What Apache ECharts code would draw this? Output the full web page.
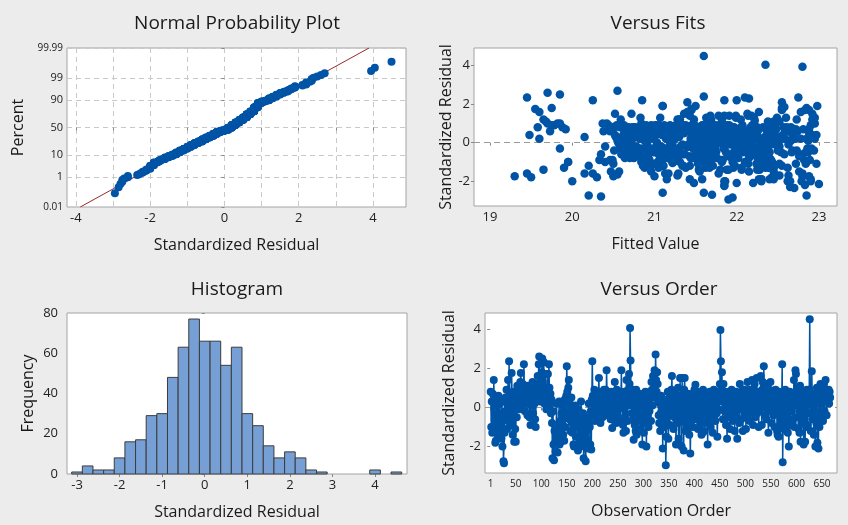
<!DOCTYPE html>
<html><head><meta charset="utf-8">
<script src="https://cdn.jsdelivr.net/npm/echarts@6/dist/echarts.min.js"></script>
<style>html,body{margin:0;padding:0;background:#ececec}#c{width:848px;height:525px}</style>
</head><body><div id="c"></div>
<script>
// Standardized residuals in observation order
const residuals = [
0.8,-1.0,0.3,-1.3,0.7,-1.1,1.4,0.2,-0.6,-1.8,
-1.7,0.4,-0.8,0.1,-1.4,0.6,-0.3,-1.2,0.2,-0.9,
-1.5,-1.6,0.3,-2.0,-0.7,-2.75,-2.85,-1.3,-0.2,0.5,
-0.4,0.9,-1.1,0.1,1.4,-0.6,2.35,0.6,-0.9,0.2,
-0.3,1.75,0.4,-1.4,0.8,-0.2,-1.75,0.5,-1.1,-1.75,
0.3,-0.5,1.1,0.6,0.2,1.0,-0.1,0.7,1.3,1.75,
0.5,0.9,0.1,1.2,0.6,2.2,0.8,-0.2,0.4,1.0,
0.3,0.7,-0.4,1.1,0.2,0.6,-0.5,0.9,-0.9,0.4,
0.8,0.1,1.3,-0.3,0.5,1.0,0.2,-0.6,-1.0,0.7,
1.2,0.4,1.6,0.9,2.2,2.6,1.1,0.3,1.5,0.8,
1.8,2.5,1.3,0.6,2.3,0.2,1.0,0.5,1.7,-0.1,
0.9,0.3,1.7,0.6,2.2,1.0,0.1,0.7,-0.3,0.4,
-0.8,-2.6,-0.2,-1.9,-2.7,-1.2,-1.8,-2.25,-1.6,0.2,
-0.9,-2.3,-1.6,-1.3,0.3,-1.9,-0.7,-1.75,-1.1,-0.3,
-0.6,0.1,-1.4,-0.2,-1.7,0.4,-1.0,-0.5,0.6,2.1,
0.8,-0.3,1.0,1.4,-0.6,0.2,-1.2,-0.4,0.5,-0.8,
-1.3,-0.2,-1.9,-2.0,-0.5,-1.0,0.1,-1.5,-0.3,-0.9,
-0.6,-2.2,-0.1,-0.8,-1.7,-0.4,-2.0,0.3,-0.7,-1.5,
-1.0,-0.3,-2.6,-1.5,-1.3,-2.0,-2.75,-1.6,-0.5,-1.1,
-0.8,-2.1,0.2,-0.6,-1.0,-1.9,-0.2,-2.15,0.4,2.35,
0.6,-0.4,0.3,0.9,-0.7,0.1,0.5,-0.2,0.7,-0.6,
0.2,0.8,1.5,-0.3,0.4,-0.8,0.6,0.0,0.8,-0.5,
0.3,-0.2,0.9,0.5,-0.4,0.9,0.1,1.9,0.6,-0.1,
0.4,0.7,-0.3,0.7,0.2,-0.6,0.8,0.0,-1.05,0.3,
-0.5,0.6,0.1,1.3,-0.2,0.4,-0.8,0.9,0.2,-0.4,
0.5,-0.1,0.8,0.8,-0.6,0.3,1.9,0.0,0.7,-0.9,
-1.3,0.4,0.8,-0.5,0.6,-1.2,1.4,0.2,-0.7,0.9,
0.1,1.7,1.2,4.05,2.4,0.5,-0.3,0.9,0.8,-0.6,
-1.65,0.3,-0.9,0.6,-1.2,0.9,-1.4,0.1,0.5,-0.7,
0.2,-0.5,0.7,-1.1,0.4,-0.3,0.0,-1.9,0.6,-0.8,
-1.3,0.3,-0.6,0.8,-0.1,-2.0,0.5,-0.4,0.2,-1.0,
0.4,-0.2,0.8,0.6,-0.7,1.3,0.9,0.1,1.6,0.7,
1.0,1.9,0.5,2.7,1.4,0.8,1.8,1.2,0.3,-0.4,
-0.8,0.2,-1.2,-0.3,0.6,-0.9,-0.1,-2.1,0.4,-0.5,
-1.0,0.3,-0.6,-2.95,-1.5,0.1,-0.2,0.8,-1.6,-0.3,
0.5,-0.9,0.2,-0.4,0.9,1.6,-0.1,0.6,-1.1,0.3,
-0.5,0.7,-0.2,-1.9,0.4,0.0,-0.8,1.0,-1.6,0.2,
-1.9,1.5,-0.3,0.6,-2.0,1.5,-0.7,0.3,-2.2,0.9,
1.5,-0.4,-1.2,0.5,-0.1,-0.9,0.2,0.7,-0.6,-1.4,
-0.2,-2.35,-0.8,0.4,-0.5,0.1,-1.0,0.6,-0.3,0.9,
0.2,1.15,-0.6,0.5,-0.2,0.8,-1.1,0.0,-0.5,0.4,
-0.9,0.3,-0.1,-1.4,0.6,-1.3,0.9,-0.7,0.1,-1.2,
0.5,-0.3,0.2,-0.8,0.7,-1.9,0.0,0.4,-0.6,0.8,
-0.2,-1.0,0.3,0.6,-0.5,-1.3,0.1,0.9,-0.4,0.5,
-0.7,0.2,0.7,-0.3,-1.5,0.6,0.8,-0.1,0.4,1.2,
3.95,2.35,1.1,1.8,0.3,-0.6,1.2,0.5,-0.2,0.8,
0.1,-0.9,0.6,-1.6,-0.3,0.7,0.8,-0.5,0.2,-1.1,
0.4,-0.2,0.9,0.0,-0.7,0.7,-0.4,0.3,-1.2,0.6,
-0.5,0.8,0.2,-1.6,0.5,-0.1,0.7,-0.8,1.2,0.1,
0.3,-0.6,0.8,0.4,-1.2,0.6,0.0,0.9,-0.3,0.5,
-1.1,0.7,0.2,1.3,-0.4,0.8,0.1,-0.7,0.9,0.4,
0.6,-0.2,1.4,0.3,-0.9,0.9,0.0,1.2,-0.5,0.7,
0.2,1.5,-0.3,0.8,0.4,-1.0,0.8,0.5,-0.1,1.6,
0.3,-0.9,0.9,1.3,0.1,2.1,0.6,-0.4,0.7,0.2,
-0.6,0.8,1.2,0.0,-1.3,0.5,0.9,-0.2,1.3,0.4,
-0.8,0.6,0.1,0.8,-0.4,0.7,-1.0,0.3,0.9,-0.3,
0.5,-1.2,-1.4,0.2,-1.5,0.8,-0.2,-0.9,0.4,-0.7,
0.1,2.2,-2.8,-0.5,-1.1,0.6,-0.3,0.9,-0.8,0.2,
-1.2,0.7,-1.3,0.3,-2.0,-0.6,0.8,0.0,-0.9,0.5,
-0.2,0.7,-0.7,0.4,1.4,-1.0,0.6,1.9,1.7,0.1,
-0.5,0.9,0.2,-1.1,0.5,-1.3,1.1,-1.75,0.3,-0.8,
0.7,-0.4,0.0,-1.9,0.8,-0.6,-1.75,0.4,-1.0,0.9,
0.2,-0.9,0.8,-0.3,0.9,4.5,0.6,-1.2,0.3,1.85,
0.5,-0.6,0.1,-1.4,0.7,-0.2,-2.0,0.4,-0.8,1.0,
-1.8,-0.4,-2.1,0.6,-1.0,0.2,1.2,-0.5,0.9,0.3,
0.8,-0.7,0.5,1.2,-0.2,0.8,1.4,0.6,-0.4,0.7,
0.7,0.4,0.9,0.2,0.8,0.5
];
// Fitted values, same observation order
const fitted = [
21.35,22.10,20.85,21.62,22.48,20.92,21.78,22.85,21.05,19.50,
22.52,21.18,20.64,21.95,22.28,20.38,21.47,20.96,22.71,21.83,
20.47,19.45,22.36,22.30,21.12,20.20,21.95,22.62,20.78,21.56,
22.94,21.02,21.68,20.55,22.18,22.77,19.45,21.27,20.33,22.05,
21.74,19.55,22.42,19.65,20.69,21.39,19.30,22.88,21.53,22.80,
20.98,22.25,19.68,21.84,22.58,20.42,21.21,19.92,22.95,21.45,
22.67,19.75,21.60,19.65,20.88,20.85,22.32,20.58,21.91,19.82,
21.14,22.08,20.71,22.52,19.60,21.33,22.84,19.78,20.49,21.70,
19.58,22.46,21.07,22.91,20.63,19.70,21.49,22.15,19.95,20.81,
22.73,19.48,19.60,21.26,20.25,19.70,22.38,21.88,20.52,19.88,
19.75,19.85,22.60,20.95,22.15,21.65,19.85,22.23,21.45,20.68,
21.38,20.15,22.83,19.73,21.85,22.44,20.90,21.71,19.85,22.97,
20.75,21.10,22.12,21.43,21.70,22.55,20.30,21.85,20.15,21.58,
22.89,22.65,21.29,19.90,22.01,22.30,20.85,21.00,22.72,21.12,
20.60,22.37,21.80,20.40,22.63,21.02,19.95,22.21,21.53,21.40,
22.47,21.67,20.37,21.91,20.82,22.78,21.35,20.51,22.09,21.76,
20.88,22.52,21.15,20.00,21.97,22.35,20.72,21.55,22.86,20.46,
21.62,21.85,22.29,20.92,21.28,22.68,21.86,20.60,22.00,22.45,
21.31,20.98,21.60,22.15,21.05,22.65,22.85,20.25,21.75,20.50,
22.40,21.48,20.82,21.95,20.40,22.27,21.18,23.00,22.56,22.10,
21.02,22.73,21.58,20.44,21.90,20.67,22.20,21.41,20.93,22.58,
21.24,22.06,21.36,20.58,22.92,21.71,20.79,21.52,22.39,20.97,
22.17,21.08,20.54,21.83,22.50,21.19,20.88,21.10,22.64,21.34,
20.71,22.26,21.64,22.81,21.46,20.35,21.94,22.44,21.22,20.62,
21.87,21.04,22.33,20.83,21.59,22.70,21.13,21.78,20.96,22.12,
21.50,22.47,20.74,22.25,21.37,20.53,22.98,21.69,22.88,21.06,
22.35,21.27,22.61,20.65,21.81,20.20,22.14,21.44,22.76,20.90,
21.63,22.55,20.59,22.35,21.60,22.22,21.09,22.90,20.77,21.96,
20.55,21.73,22.42,21.15,20.86,22.07,21.54,22.66,21.30,20.69,
22.28,21.00,21.57,22.84,20.95,21.84,22.51,22.30,21.20,22.02,
21.67,20.76,22.37,21.48,20.62,22.79,21.92,21.17,22.59,20.84,
21.25,22.19,20.98,22.72,21.43,22.49,20.60,21.87,22.27,21.08,
22.95,21.50,21.36,20.55,21.99,20.88,22.85,21.30,22.14,21.61,
21.94,20.73,22.46,21.21,22.63,21.52,20.91,22.20,21.77,22.87,
21.04,22.34,21.72,21.90,20.57,22.00,21.40,22.57,21.13,20.80,
22.41,21.60,20.83,22.09,21.35,22.78,21.85,20.66,22.24,21.49,
21.18,22.69,21.97,21.58,20.99,22.31,20.70,21.63,22.80,22.05,
22.90,21.42,20.87,22.16,21.85,22.92,21.27,22.53,22.83,21.06,
20.72,22.38,21.11,21.76,22.63,20.94,21.53,22.27,20.77,21.88,
22.11,22.70,21.44,20.92,22.54,21.23,21.95,22.74,21.65,20.63,
21.81,22.22,20.75,21.45,21.32,21.70,22.97,21.03,22.32,21.57,
20.86,21.60,21.47,22.06,21.19,22.39,21.89,20.68,22.40,21.34,
22.18,21.07,21.75,21.61,20.97,22.45,21.80,20.52,21.26,20.74,
21.55,22.43,20.89,21.93,22.67,21.38,22.13,21.01,20.82,21.36,
21.73,21.82,21.16,22.03,20.96,21.46,20.58,21.90,22.25,21.28,
22.80,22.75,21.66,22.55,20.94,22.20,21.48,21.36,20.64,21.84,
22.10,21.20,20.46,21.78,20.91,21.65,21.40,22.08,21.58,22.52,
20.98,22.33,21.74,21.86,21.12,22.26,21.64,20.80,21.71,21.44,
22.40,21.52,22.95,21.17,22.03,21.85,20.72,21.57,21.31,22.19,
21.69,20.60,20.88,21.95,22.34,21.22,21.77,21.59,20.93,22.44,
22.14,21.37,22.68,21.99,21.05,20.50,21.76,22.24,21.91,21.48,
20.84,22.05,21.43,21.62,22.82,21.28,22.16,21.82,21.61,20.67,
22.35,22.13,21.57,21.74,21.09,22.28,20.65,21.93,21.41,21.40,
21.79,21.54,20.96,22.21,22.87,22.55,21.54,22.09,20.78,21.25,
21.31,21.66,22.92,21.03,22.45,22.01,21.34,20.70,21.63,21.88,
21.46,22.37,21.80,21.59,20.99,22.18,22.85,21.71,21.49,22.04,
21.66,21.43,22.25,21.14,22.76,21.91,22.39,20.87,22.11,21.56,
22.29,22.00,20.35,21.97,21.62,21.35,20.83,22.20,21.67,21.47,
21.10,22.72,22.06,21.52,22.90,21.34,21.77,20.56,21.24,21.96,
22.21,21.39,20.80,22.02,21.68,21.63,22.41,21.10,22.88,21.83,
21.53,21.58,22.27,21.01,20.73,21.96,22.45,22.88,21.30,22.15,
21.72,20.60,21.19,22.40,21.97,21.50,20.50,22.24,21.82,21.45,
22.09,21.81,20.51,21.27,22.19,21.60,21.69,21.98,22.36,22.58,
21.61,20.92,22.14,21.90,21.50,21.08,22.62,21.75,22.30,20.84,
22.43,21.53,22.00,21.77,21.23,22.23,21.69,20.95,21.86,22.55,
21.38,21.92,20.87,22.05,21.42,22.66,21.85,21.78,22.28,20.99,
21.57,22.46,21.12,21.74,22.17,21.89
];
// Histogram bins (centres) and frequencies
const histCenters = [-3,-2.75,-2.5,-2.25,-2,-1.75,-1.5,-1.25,-1,-0.75,-0.5,-0.25,0,0.25,0.5,0.75,1,1.25,1.5,1.75,2,2.25,2.5,2.75,3,3.25,3.5,3.75,4,4.25,4.5];
const histCounts  = [1,4,2,2,8,16,17,29,30,48,63,77,66,66,54,63,30,24,14,8,11,8,2,1,0,0,0,0,2,0,1];
// Tick labels
const probPercentTicks = [0.01,1,10,50,90,99,99.99];
const probPercentLabels = ['0.01','1','10','50','90','99','99.99'];
const probXGrid = [-4,-3,-2,-1,0,1,2,3,4];
const probXLabels = [-4,-2,0,2,4];
const fitsXTicks = [19,20,21,22,23];
const residYTicks = [-2,0,2,4];
const histXTicks = [-3,-2,-1,0,1,2,3,4];
const orderXTicks = [1,50,100,150,200,250,300,350,400,450,500,550,600,650];

// inverse standard normal CDF (probability-scale transform)
function probit(p){
  const a=[-3.969683028665376e+01,2.209460984245205e+02,-2.759285104469687e+02,1.383577518672690e+02,-3.066479806614716e+01,2.506628277459239e+00];
  const b=[-5.447609879822406e+01,1.615858368580409e+02,-1.556989798598866e+02,6.680131188771972e+01,-1.328068155288572e+01];
  const c=[-7.784894002430293e-03,-3.223964580411365e-01,-2.400758277161838e+00,-2.549732539343734e+00,4.374664141464968e+00,2.938163982698783e+00];
  const d=[7.784695709041462e-03,3.224671290700398e-01,2.445134137142996e+00,3.754408661907416e+00];
  const pl=0.02425;
  let q,r;
  if(p<pl){q=Math.sqrt(-2*Math.log(p));return (((((c[0]*q+c[1])*q+c[2])*q+c[3])*q+c[4])*q+c[5])/((((d[0]*q+d[1])*q+d[2])*q+d[3])*q+1);}
  if(p>1-pl){q=Math.sqrt(-2*Math.log(1-p));return -(((((c[0]*q+c[1])*q+c[2])*q+c[3])*q+c[4])*q+c[5])/((((d[0]*q+d[1])*q+d[2])*q+d[3])*q+1);}
  q=p-0.5;r=q*q;return (((((a[0]*r+a[1])*r+a[2])*r+a[3])*r+a[4])*r+a[5])*q/(((((b[0]*r+b[1])*r+b[2])*r+b[3])*r+b[4])*r+1);
}

const n = residuals.length;
const sorted = residuals.slice().sort((x,y)=>x-y);
const probData = sorted.map((v,i)=>[v, probit((i+1-0.3)/(n+0.4))]);
const mean = residuals.reduce((s,v)=>s+v,0)/n;
const sd = Math.sqrt(residuals.reduce((s,v)=>s+(v-mean)*(v-mean),0)/(n-1));
const zTicks = probPercentTicks.map(p=>probit(p/100));
const zMin = zTicks[0], zMax = zTicks[zTicks.length-1];
const fitLine = [[mean+sd*zMin, zMin],[mean+sd*zMax, zMax]];
const fitsData = residuals.map((r,i)=>[fitted[i], r]);
const orderData = residuals.map((r,i)=>[i+1, r]);
const histData = histCenters.map((c,i)=>[c, histCounts[i]]);
const binW = histCenters[1]-histCenters[0];

const FONT = '"Open Sans", "DejaVu Sans", sans-serif';
const BLUE = '#0054a6';
const LBL = '#222';
const dash = {type:[5,4], color:'#c9c9c9', width:1};
const tickStyle = {show:true, length:3, lineStyle:{color:'#888'}};
function axisBase(extra){
  return Object.assign({
    type:'value', axisLine:{show:false},
    axisTick:tickStyle,
    axisLabel:{color:LBL, fontFamily:FONT, fontSize:13, margin:5},
    splitLine:{show:false},
    nameLocation:'middle',
    nameTextStyle:{color:'#1a1a1a', fontFamily:FONT, fontSize:16}
  }, extra);
}
const titleStyle = {color:'#1a1a1a', fontFamily:FONT, fontSize:19, fontWeight:'normal'};
const gridBox = {show:true, backgroundColor:'#fff', borderColor:'#a4a4a4', borderWidth:1};

const chart = echarts.init(document.getElementById('c'), null, {renderer:'canvas'});
chart.setOption({
  backgroundColor:'#ececec',
  animation:false,
  title:[
    {text:'Normal Probability Plot', left:237, top:14, textAlign:'center', padding:0, textStyle:titleStyle},
    {text:'Versus Fits', left:658, top:14, textAlign:'center', padding:0, textStyle:titleStyle},
    {text:'Histogram', left:237, top:280, textAlign:'center', padding:0, textStyle:titleStyle},
    {text:'Versus Order', left:659, top:280, textAlign:'center', padding:0, textStyle:titleStyle}
  ],
  grid:[
    Object.assign({left:67, top:48, width:339, height:159}, gridBox),
    Object.assign({left:474, top:48, width:363, height:158}, gridBox),
    Object.assign({left:67, top:313, width:340, height:161}, gridBox),
    Object.assign({left:485, top:313, width:352, height:160}, gridBox)
  ],
  xAxis:[
    axisBase({gridIndex:0, min:-4.24, max:4.89, name:'Standardized Residual', nameGap:30,
      axisTick:Object.assign({customValues:probXGrid}, tickStyle),
      axisLabel:{color:LBL, fontFamily:FONT, fontSize:13, margin:5, customValues:probXLabels},
      splitLine:{show:true, lineStyle:dash}}),
    axisBase({gridIndex:1, min:18.805, max:23.22, name:'Fitted Value', nameGap:30,
      axisTick:Object.assign({customValues:fitsXTicks}, tickStyle),
      axisLabel:{color:LBL, fontFamily:FONT, fontSize:13, margin:5, customValues:fitsXTicks}}),
    axisBase({gridIndex:2, min:-3.235, max:4.75, name:'Standardized Residual', nameGap:30,
      axisTick:Object.assign({customValues:histXTicks}, tickStyle),
      axisLabel:{color:LBL, fontFamily:FONT, fontSize:13, margin:5, customValues:histXTicks}}),
    axisBase({gridIndex:3, min:-10.2, max:679.4, name:'Observation Order', nameGap:30,
      axisTick:Object.assign({customValues:orderXTicks}, tickStyle),
      axisLabel:{color:LBL, fontFamily:FONT, fontSize:10, margin:6, customValues:orderXTicks}})
  ],
  yAxis:[
    axisBase({gridIndex:0, min:zMin, max:zMax, name:'Percent', nameGap:41,
      axisTick:Object.assign({customValues:zTicks}, tickStyle),
      axisLabel:{color:LBL, fontFamily:FONT, margin:4, customValues:zTicks,
        formatter:(v)=>{let k=0,b=1e9;zTicks.forEach((z,i)=>{if(Math.abs(z-v)<b){b=Math.abs(z-v);k=i;}});
          const t=probPercentLabels[k];return (k===0||k===zTicks.length-1)?'{s|'+t+'}':'{m|'+t+'}';},
        rich:{s:{fontSize:10, color:LBL, fontFamily:FONT}, m:{fontSize:11, color:LBL, fontFamily:FONT}}},
      splitLine:{show:true, lineStyle:dash}}),
    axisBase({gridIndex:1, min:-3.29, max:4.92, name:'Standardized Residual', nameGap:17,
      axisTick:Object.assign({customValues:residYTicks}, tickStyle),
      axisLabel:{color:LBL, fontFamily:FONT, fontSize:13, margin:4, customValues:residYTicks}}),
    axisBase({gridIndex:2, min:0, max:80, interval:20, name:'Frequency', nameGap:31,
      axisLabel:{color:LBL, fontFamily:FONT, fontSize:13, margin:9}}),
    axisBase({gridIndex:3, min:-3.35, max:4.82, name:'Standardized Residual', nameGap:28,
      axisTick:Object.assign({customValues:residYTicks}, tickStyle),
      axisLabel:{color:LBL, fontFamily:FONT, fontSize:13, margin:4, customValues:residYTicks}})
  ],
  series:[
    {type:'line', xAxisIndex:0, yAxisIndex:0, data:fitLine, symbol:'none', clip:true, z:3,
      lineStyle:{color:'#9c2a2a', width:1}},
    {type:'scatter', xAxisIndex:0, yAxisIndex:0, data:probData, symbolSize:8, z:4,
      itemStyle:{color:BLUE, opacity:1}},
    {type:'scatter', xAxisIndex:1, yAxisIndex:1, data:fitsData, symbolSize:8.5, z:4,
      itemStyle:{color:BLUE, opacity:1},
      markLine:{silent:true, symbol:'none', z:1, label:{show:false}, lineStyle:{type:[6,4], color:'#9a9a9a', width:1}, data:[{yAxis:0}]}},
    {type:'custom', xAxisIndex:2, yAxisIndex:2, data:histData, z:4,
      renderItem:(params, api)=>{
        const c=api.value(0), f=api.value(1);
        if(!f) return null;
        const p0=api.coord([c-binW/2, f]);
        const p1=api.coord([c+binW/2, 0]);
        return {type:'rect', shape:{x:p0[0], y:p0[1], width:p1[0]-p0[0], height:p1[1]-p0[1]},
          style:{fill:'#769fd5', stroke:'#3c3c3c', lineWidth:1}};
      }},
    {type:'line', xAxisIndex:3, yAxisIndex:3, data:orderData, symbol:'circle', symbolSize:8, showAllSymbol:true, z:4,
      itemStyle:{color:BLUE, opacity:1}, lineStyle:{color:BLUE, width:1.5},
      markLine:{silent:true, symbol:'none', z:1, label:{show:false}, lineStyle:{type:[6,4], color:'#9a9a9a', width:1}, data:[{yAxis:0}]}}
  ]
});
</script>
</body></html>
